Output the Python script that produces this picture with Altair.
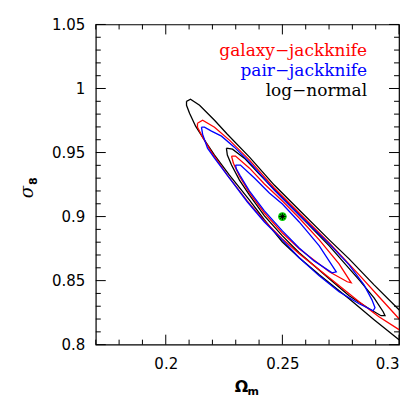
import altair as alt
import pandas as pd

# ---------------- data (Omega_m, sigma_8) ----------------
# log-normal (black) outer contour
bo_x = [0.2089, 0.2106, 0.2145, 0.2209, 0.2264, 0.2359, 0.2465, 0.2572, 0.2701, 0.2786, 0.2893, 0.3000, 0.3021,
        0.3021, 0.3000, 0.2893, 0.2786, 0.2658, 0.2572, 0.2500, 0.2423, 0.2359, 0.2273, 0.2209, 0.2166, 0.2128, 0.2102, 0.2089]
bo_y = [0.9900, 0.9916, 0.9869, 0.9752, 0.9643, 0.9464, 0.9246, 0.9051, 0.8818, 0.8670, 0.8467, 0.8273, 0.8234,
        0.8000, 0.8039, 0.8195, 0.8358, 0.8545, 0.8678, 0.8802, 0.8974, 0.9129, 0.9324, 0.9480, 0.9597, 0.9706, 0.9807, 0.9869]
# log-normal (black) inner contour
bi_x = [0.2260, 0.2286, 0.2337, 0.2401, 0.2500, 0.2572, 0.2701, 0.2829, 0.2893, 0.2932, 0.2940,
        0.2923, 0.2872, 0.2786, 0.2701, 0.2572, 0.2500, 0.2423, 0.2359, 0.2316, 0.2282, 0.2264]
bi_y = [0.9534, 0.9526, 0.9456, 0.9332, 0.9145, 0.9012, 0.8771, 0.8506, 0.8366, 0.8257, 0.8226,
        0.8226, 0.8280, 0.8382, 0.8514, 0.8717, 0.8849, 0.9005, 0.9168, 0.9285, 0.9402, 0.9480]

# galaxy-jackknife (red) outer contour
ro_x = [0.2136, 0.2158, 0.2209, 0.2273, 0.2359, 0.2465, 0.2572, 0.2701, 0.2829, 0.2914, 0.3000, 0.3021,
        0.3021, 0.3000, 0.2914, 0.2829, 0.2701, 0.2572, 0.2500, 0.2423, 0.2350, 0.2264, 0.2196, 0.2158, 0.2136]
ro_y = [0.9729, 0.9752, 0.9698, 0.9597, 0.9441, 0.9223, 0.9028, 0.8794, 0.8545, 0.8374, 0.8202, 0.8164,
        0.8093, 0.8117, 0.8218, 0.8335, 0.8522, 0.8709, 0.8826, 0.8966, 0.9121, 0.9324, 0.9503, 0.9620, 0.9698]
# galaxy-jackknife (red) inner contour
ri_x = [0.2282, 0.2299, 0.2359, 0.2423, 0.2500, 0.2572, 0.2658, 0.2743, 0.2795,
        0.2778, 0.2701, 0.2572, 0.2500, 0.2423, 0.2359, 0.2316, 0.2290]
ri_y = [0.9472, 0.9472, 0.9378, 0.9254, 0.9121, 0.8989, 0.8818, 0.8631, 0.8483,
        0.8491, 0.8569, 0.8748, 0.8872, 0.9028, 0.9184, 0.9316, 0.9417]

# pair-jackknife (blue) outer contour
po_x = [0.2153, 0.2166, 0.2196, 0.2239, 0.2294, 0.2359, 0.2465, 0.2572, 0.2701, 0.2786, 0.2850, 0.2884, 0.2897,
        0.2889, 0.2829, 0.2743, 0.2658, 0.2572, 0.2500, 0.2423, 0.2350, 0.2273, 0.2209, 0.2179, 0.2158]
po_y = [0.9698, 0.9698, 0.9667, 0.9628, 0.9542, 0.9425, 0.9207, 0.9012, 0.8787, 0.8623, 0.8467, 0.8350, 0.8288,
        0.8265, 0.8319, 0.8413, 0.8537, 0.8678, 0.8818, 0.8958, 0.9114, 0.9301, 0.9456, 0.9534, 0.9643]
# pair-jackknife (blue) inner contour
pi_x = [0.2299, 0.2320, 0.2380, 0.2444, 0.2500, 0.2572, 0.2658, 0.2731,
        0.2713, 0.2636, 0.2572, 0.2500, 0.2423, 0.2359, 0.2320, 0.2303]
pi_y = [0.9402, 0.9402, 0.9301, 0.9184, 0.9098, 0.8958, 0.8771, 0.8569,
        0.8561, 0.8654, 0.8755, 0.8888, 0.9044, 0.9199, 0.9316, 0.9371]

fiducial_x = [0.25]
fiducial_y = [0.90]

legend_labels = ["galaxy\u2212jackknife", "pair\u2212jackknife", "log\u2212normal"]
legend_colors = ["#ff0000", "#0000ff", "#000000"]

x_major = [0.2, 0.25, 0.3]
x_minor = [0.17, 0.18, 0.19, 0.21, 0.22, 0.23, 0.24, 0.26, 0.27, 0.28, 0.29]
y_major = [0.8, 0.85, 0.9, 0.95, 1.0, 1.05]
y_minor = [0.81, 0.82, 0.83, 0.84, 0.86, 0.87, 0.88, 0.89, 0.91, 0.92, 0.93, 0.94,
           0.96, 0.97, 0.98, 0.99, 1.01, 1.02, 1.03, 1.04]

# ---------------- chart ----------------
W, H = 304, 321
xs = alt.Scale(domain=[0.17, 0.3], nice=False, zero=False)
ys = alt.Scale(domain=[0.8, 1.05], nice=False, zero=False)
xa = alt.Axis(values=x_major, labelExpr="toString(datum.value)", ticks=False, domain=False, grid=False,
              title=None, labelFont="DejaVu Sans", labelFontSize=15, labelColor="black", labelPadding=12)
ya = alt.Axis(values=y_major, labelExpr="toString(datum.value)", ticks=False, domain=False, grid=False,
              title=None, labelFont="DejaVu Sans", labelFontSize=15, labelColor="black", labelPadding=11)


def X(field):
    return alt.X(field, scale=xs, axis=xa)


def Y(field):
    return alt.Y(field, scale=ys, axis=ya)


def contour_df(xv, yv):
    xv = list(xv) + [xv[0]]
    yv = list(yv) + [yv[0]]
    return pd.DataFrame({"om": xv, "s8": yv, "i": list(range(len(xv)))})


def contour(xv, yv, color):
    return alt.Chart(contour_df(xv, yv)).mark_line(
        color=color, strokeWidth=1.3, clip=True, interpolate="linear"
    ).encode(x=X("om:Q"), y=Y("s8:Q"), order="i:Q")


layers = [
    contour(bo_x, bo_y, "#000000"),
    contour(bi_x, bi_y, "#000000"),
    contour(ro_x, ro_y, "#ff0000"),
    contour(ri_x, ri_y, "#ff0000"),
    contour(po_x, po_y, "#0000ff"),
    contour(pi_x, pi_y, "#0000ff"),
]

fid = pd.DataFrame({"om": fiducial_x, "s8": fiducial_y})
layers.append(alt.Chart(fid).mark_point(filled=True, color="#00cc00", size=75, opacity=1).encode(
    x=X("om:Q"), y=Y("s8:Q")))
layers.append(alt.Chart(fid).mark_point(
    shape="M-1,0L1,0M0,-1L0,1M-0.7,-0.7L0.7,0.7M-0.7,0.7L0.7,-0.7",
    filled=False, color="black", size=45, strokeWidth=1, opacity=1).encode(
    x=X("om:Q"), y=Y("s8:Q")))


def ticks_x(vals, L):
    d = pd.DataFrame({"om": vals})
    bot = alt.Chart(d).mark_rule(color="black", strokeWidth=1).encode(x=X("om:Q"), y=alt.value(H), y2=alt.value(H - L))
    top = alt.Chart(d).mark_rule(color="black", strokeWidth=1).encode(x=X("om:Q"), y=alt.value(0), y2=alt.value(L))
    return [bot, top]


def ticks_y(vals, L):
    d = pd.DataFrame({"s8": vals})
    lef = alt.Chart(d).mark_rule(color="black", strokeWidth=1).encode(y=Y("s8:Q"), x=alt.value(0), x2=alt.value(L))
    rig = alt.Chart(d).mark_rule(color="black", strokeWidth=1).encode(y=Y("s8:Q"), x=alt.value(W), x2=alt.value(W - L))
    return [lef, rig]


layers += ticks_x(x_major, 10) + ticks_x(x_minor, 5) + ticks_y(y_major, 10) + ticks_y(y_minor, 5)

for k, (lab, col) in enumerate(zip(legend_labels, legend_colors)):
    layers.append(alt.Chart(pd.DataFrame({"t": [lab]})).mark_text(
        align="right", baseline="alphabetic", font="DejaVu Serif", fontSize=17, color=col
    ).encode(text="t:N", x=alt.value(272), y=alt.value(32 + 20 * k)))

# axis titles (Omega_m and sigma_8 with subscripts)
layers.append(alt.Chart(pd.DataFrame({"t": ["\u03a9"]})).mark_text(
    align="center", baseline="alphabetic", font="DejaVu Sans", fontSize=16, fontWeight="bold", color="black"
).encode(text="t:N", x=alt.value(146), y=alt.value(368)))
layers.append(alt.Chart(pd.DataFrame({"t": ["m"]})).mark_text(
    align="left", baseline="alphabetic", font="DejaVu Sans", fontSize=11, fontWeight="bold", color="black"
).encode(text="t:N", x=alt.value(152), y=alt.value(371)))
layers.append(alt.Chart(pd.DataFrame({"t": ["\u03c3"]})).mark_text(
    align="center", baseline="alphabetic", font="DejaVu Serif", fontSize=18, fontStyle="italic", color="black",
    angle=270
).encode(text="t:N", x=alt.value(-63), y=alt.value(168)))
layers.append(alt.Chart(pd.DataFrame({"t": ["8"]})).mark_text(
    align="center", baseline="alphabetic", font="DejaVu Sans", fontSize=11, fontWeight="bold", color="black",
    angle=270
).encode(text="t:N", x=alt.value(-59), y=alt.value(157)))

chart = alt.layer(*layers).properties(
    width=W, height=H,
    autosize=alt.AutoSizeParams(type="none"),
    padding={"left": 88, "top": 16, "right": 8, "bottom": 60},
).configure_view(stroke="black", strokeWidth=1.2)

chart.save("out.html", embed_options={"renderer": "svg", "actions": False})
